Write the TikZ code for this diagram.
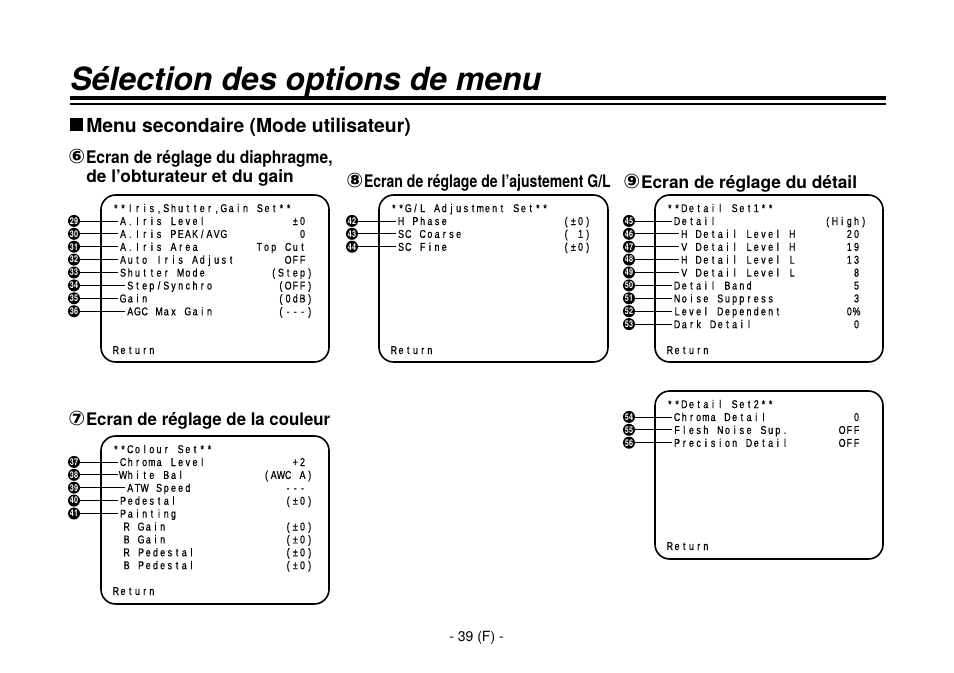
\documentclass[tikz,border=0pt]{standalone}
\usepackage{graphicx}
\usepackage{fontspec}
\setmainfont{TeX Gyre Heros}
\newfontfamily\osdfont[FakeStretch=0.78,FakeBold=0.6]{Liberation Sans}
\newfontfamily\circfont{DejaVu Sans}
\makeatletter
\def\OSD@end{\OSD@end}
\newcommand\OSDtext[1]{\OSD@loop#1\OSD@end}
\def\OSD@loop#1{\ifx#1\OSD@end\else\hbox to 5.4pt{\hss#1\hss}\expandafter\OSD@loop\fi}
\makeatother
% #1 name, #2 col0x, #3 y0, #4 row, #5 col, #6 text
\newcommand\OSDrow[6]{\node[osd, anchor=base west] (#1) at ({#2+7.2*#5},{#3+12.9*#4+4.1}) {\OSDtext{#6}};}
% #1 name, #2 col0x, #3 y0, #4 row, #5 text
\newcommand\OSDval[5]{\node[osd, anchor=base east] (#1) at ({#2+201.6},{#3+12.9*#4+4.1}) {\OSDtext{#5}};}
% #1 name (label is #1l), #2 x, #3 y0, #4 row, #5 number
\newcommand\OSDbul[5]{\node[bullet] (#1) at (#2,{#3+12.9*#4}) {\scalebox{0.78}[1]{#5}};
  \draw[leader] (#1) -- (#1 -| #1l.base west);}
\newcommand\CircNum[1]{{\circfont\fontsize{15}{15}\selectfont #1}\hspace{0.6pt}}
\begin{document}
\begin{tikzpicture}[x=0.75pt,y=-0.75pt,
  osd/.style={inner sep=0pt, font=\osdfont\fontsize{8.5}{9}\selectfont},
  bullet/.style={circle, fill=black, text=white, inner sep=0pt, minimum size=9pt,
    font=\fontsize{7}{7}\selectfont\bfseries},
  leader/.style={line width=0.6pt, shorten >=0.8pt},
  screen/.style={line width=1.2pt, rounded corners=11pt},
  heading/.style={anchor=base west, inner sep=0pt, font=\fontsize{13}{15}\selectfont\bfseries},
  txt/.style={inner sep=0pt}]
\useasboundingbox (0,0) rectangle (954,672);
\fill[white] (0,0) rectangle (954,672);

% title and rules
\node[txt, anchor=base west, font=\fontsize{24}{28}\selectfont\bfseries\itshape] (title) at (70,90) {Sélection des options de menu};
\draw[line width=3pt] (70,98) -- (886,98);
\draw[line width=0.8pt] (70,104) -- (886,104);

% section heading
\fill (70,118) rectangle (83,131);
\node[txt, anchor=base west, font=\fontsize{14.5}{16}\selectfont\bfseries] (sec) at (86,132) {Menu secondaire (Mode utilisateur)};

% headings
\node[heading] (h6) at (68,163) {\CircNum{⑥}\scalebox{0.9}[1]{Ecran de réglage du diaphragme,}};
\node[heading] (h6b) at (86,182) {de l’obturateur et du gain};
\node[heading] (h8) at (346,187) {\CircNum{⑧}\scalebox{0.81}[1]{Ecran de réglage de l’ajustement G/L}};
\node[heading] (h9) at (623,188) {\CircNum{⑨}Ecran de réglage du détail};
\node[heading] (h7) at (68,425) {\CircNum{⑦}\scalebox{0.97}[1]{Ecran de réglage de la couleur}};

% ---------- Screen 1 ----------
\draw[screen] (101,195) rectangle (329,362);
\OSDrow{s1t}{112}{208}{0}{0}{**Iris,Shutter,Gain~Set**}
\OSDrow{n29l}{112}{208}{1}{1}{A.Iris~Level}\OSDval{n29v}{112}{208}{1}{±0~}\OSDbul{n29}{74}{208}{1}{29}
\OSDrow{n30l}{112}{208}{2}{1}{A.Iris~PEAK/AVG}\OSDval{n30v}{112}{208}{2}{0~}\OSDbul{n30}{74}{208}{2}{30}
\OSDrow{n31l}{112}{208}{3}{1}{A.Iris~Area}\OSDval{n31v}{112}{208}{3}{Top~Cut~}\OSDbul{n31}{74}{208}{3}{31}
\OSDrow{n32l}{112}{208}{4}{1}{Auto~Iris~Adjust}\OSDval{n32v}{112}{208}{4}{OFF~}\OSDbul{n32}{74}{208}{4}{32}
\OSDrow{n33l}{112}{208}{5}{1}{Shutter~Mode}\OSDval{n33v}{112}{208}{5}{(Step)}\OSDbul{n33}{74}{208}{5}{33}
\OSDrow{n34l}{112}{208}{6}{2}{Step/Synchro}\OSDval{n34v}{112}{208}{6}{(OFF)}\OSDbul{n34}{74}{208}{6}{34}
\OSDrow{n35l}{112}{208}{7}{1}{Gain}\OSDval{n35v}{112}{208}{7}{(0dB)}\OSDbul{n35}{74}{208}{7}{35}
\OSDrow{n36l}{112}{208}{8}{2}{AGC~Max~Gain}\OSDval{n36v}{112}{208}{8}{(---)}\OSDbul{n36}{74}{208}{8}{36}
\OSDrow{s1r}{112}{208}{11}{0}{Return}

% ---------- Screen 2 ----------
\draw[screen] (379,195) rectangle (608,362);
\OSDrow{s2t}{390}{208}{0}{0}{**G/L~Adjustment~Set**}
\OSDrow{n42l}{390}{208}{1}{1}{H~Phase}\OSDval{n42v}{390}{208}{1}{(±0)}\OSDbul{n42}{352}{208}{1}{42}
\OSDrow{n43l}{390}{208}{2}{1}{SC~Coarse}\OSDval{n43v}{390}{208}{2}{(~1)}\OSDbul{n43}{352}{208}{2}{43}
\OSDrow{n44l}{390}{208}{3}{1}{SC~Fine}\OSDval{n44v}{390}{208}{3}{(±0)}\OSDbul{n44}{352}{208}{3}{44}
\OSDrow{s2r}{390}{208}{11}{0}{Return}

% ---------- Screen 3 ----------
\draw[screen] (655,195) rectangle (883,362);
\OSDrow{s3t}{666}{208}{0}{0}{**Detail~Set1**}
\OSDrow{n45l}{666}{208}{1}{1}{Detail}\OSDval{n45v}{666}{208}{1}{(High)}\OSDbul{n45}{629}{208}{1}{45}
\OSDrow{n46l}{666}{208}{2}{2}{H~Detail~Level~H}\OSDval{n46v}{666}{208}{2}{20~}\OSDbul{n46}{629}{208}{2}{46}
\OSDrow{n47l}{666}{208}{3}{2}{V~Detail~Level~H}\OSDval{n47v}{666}{208}{3}{19~}\OSDbul{n47}{629}{208}{3}{47}
\OSDrow{n48l}{666}{208}{4}{2}{H~Detail~Level~L}\OSDval{n48v}{666}{208}{4}{13~}\OSDbul{n48}{629}{208}{4}{48}
\OSDrow{n49l}{666}{208}{5}{2}{V~Detail~Level~L}\OSDval{n49v}{666}{208}{5}{8~}\OSDbul{n49}{629}{208}{5}{49}
\OSDrow{n50l}{666}{208}{6}{1}{Detail~Band}\OSDval{n50v}{666}{208}{6}{5~}\OSDbul{n50}{629}{208}{6}{50}
\OSDrow{n51l}{666}{208}{7}{1}{Noise~Suppress}\OSDval{n51v}{666}{208}{7}{3~}\OSDbul{n51}{629}{208}{7}{51}
\OSDrow{n52l}{666}{208}{8}{1}{Level~Dependent}\OSDval{n52v}{666}{208}{8}{0\%~}\OSDbul{n52}{629}{208}{8}{52}
\OSDrow{n53l}{666}{208}{9}{1}{Dark~Detail}\OSDval{n53v}{666}{208}{9}{0~}\OSDbul{n53}{629}{208}{9}{53}
\OSDrow{s3r}{666}{208}{11}{0}{Return}

% ---------- Screen 4 ----------
\draw[screen] (101,436) rectangle (329,604);
\OSDrow{s4t}{112}{449}{0}{0}{**Colour~Set**}
\OSDrow{n37l}{112}{449}{1}{1}{Chroma~Level}\OSDval{n37v}{112}{449}{1}{+2~}\OSDbul{n37}{74}{449}{1}{37}
\OSDrow{n38l}{112}{449}{2}{1}{White~Bal}\OSDval{n38v}{112}{449}{2}{(AWC~A)}\OSDbul{n38}{74}{449}{2}{38}
\OSDrow{n39l}{112}{449}{3}{2}{ATW~Speed}\OSDval{n39v}{112}{449}{3}{---~}\OSDbul{n39}{74}{449}{3}{39}
\OSDrow{n40l}{112}{449}{4}{1}{Pedestal}\OSDval{n40v}{112}{449}{4}{(±0)}\OSDbul{n40}{74}{449}{4}{40}
\OSDrow{n41l}{112}{449}{5}{1}{Painting}\OSDbul{n41}{74}{449}{5}{41}
\OSDrow{s4a}{112}{449}{6}{1.5}{R~Gain}\OSDval{s4av}{112}{449}{6}{(±0)}
\OSDrow{s4b}{112}{449}{7}{1.5}{B~Gain}\OSDval{s4bv}{112}{449}{7}{(±0)}
\OSDrow{s4c}{112}{449}{8}{1.5}{R~Pedestal}\OSDval{s4cv}{112}{449}{8}{(±0)}
\OSDrow{s4d}{112}{449}{9}{1.5}{B~Pedestal}\OSDval{s4dv}{112}{449}{9}{(±0)}
\OSDrow{s4r}{112}{449}{11}{0}{Return}

% ---------- Screen 5 ----------
\draw[screen] (655,391) rectangle (883,559);
\OSDrow{s5t}{666}{404}{0}{0}{**Detail~Set2**}
\OSDrow{n54l}{666}{404}{1}{1}{Chroma~Detail}\OSDval{n54v}{666}{404}{1}{0~}\OSDbul{n54}{629}{404}{1}{54}
\OSDrow{n55l}{666}{404}{2}{1}{Flesh~Noise~Sup.}\OSDval{n55v}{666}{404}{2}{OFF~}\OSDbul{n55}{629}{404}{2}{55}
\OSDrow{n56l}{666}{404}{3}{1}{Precision~Detail}\OSDval{n56v}{666}{404}{3}{OFF~}\OSDbul{n56}{629}{404}{3}{56}
\OSDrow{s5r}{666}{404}{11}{0}{Return}

% page number
\node[txt, anchor=base, font=\fontsize{10.5}{12}\selectfont] (page) at (476.5,641) {- 39 (F) -};
\end{tikzpicture}
\end{document}
